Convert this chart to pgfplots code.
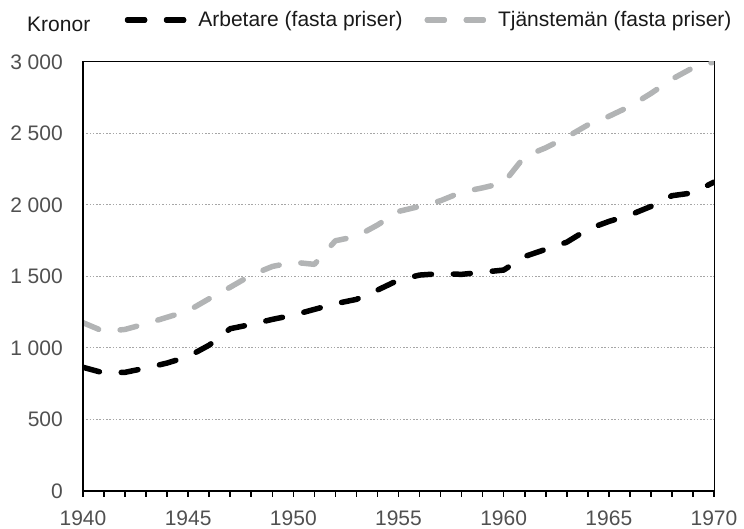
\documentclass[border=0pt]{standalone}
\usepackage{fontspec}
\setmainfont{Liberation Sans}
\usepackage{pgfplots}
\pgfplotsset{compat=1.18}

\definecolor{arbgray}{RGB}{178,180,181}
\definecolor{ticktext}{RGB}{80,80,80}

\begin{document}
\begin{tikzpicture}[font=\fontsize{21}{25}\selectfont]
\begin{axis}[
    name=ax,
    width=631pt, height=429pt,
    scale only axis,
    clip mode=individual,
    xmin=1940, xmax=1970,
    ymin=0, ymax=3000,
    xtick={1940,1945,...,1970},
    minor x tick num=4,
    xtick pos=bottom,
    ytick={0,500,...,3000},
    tick align=outside,
    major tick length=6pt,
    minor tick length=6pt,
    x tick style={line width=1.6pt, black},
    minor x tick style={line width=1.6pt, black},
    y tick style={draw=none},
    /pgf/number format/assume math mode=true,
    x tick label style={/pgf/number format/1000 sep={}, inner sep=0pt, yshift=-14pt, text=ticktext},
    y tick label style={/pgf/number format/1000 sep={\ }, inner sep=0pt, xshift=-14pt, text=ticktext},
    axis line style={line width=1pt},
    ymajorgrids=true,
    grid style={line width=1pt, gray!70, dash pattern=on 1.5pt off 1.8pt},
    legend columns=2,
    legend style={draw=none, fill=none, at={(axis description cs:0.066,1.098)}, anchor=west,
        inner sep=0pt, font=\fontsize{21}{25}\selectfont, text=black!90,
        nodes={inner sep=0pt},
        /tikz/every even column/.append style={column sep=22pt}},
    legend image code/.code={\draw[#1] (0pt,0pt) -- (56pt,0pt); \path (0pt,0pt) -- (68pt,0pt);},
]
\addplot[black, line width=5.5pt, line cap=round, line join=round, dash pattern=on 17pt off 22pt]
    coordinates {
    (1940,865)(1941,825)(1942,830)(1943,860)(1944,895)(1945,940)(1946,1020)
    (1947,1135)(1948,1165)(1949,1200)(1950,1230)(1951,1270)(1952,1310)(1953,1340)
    (1954,1405)(1955,1475)(1956,1510)(1957,1520)(1958,1515)(1959,1530)(1960,1545)
    (1961,1640)(1962,1690)(1963,1740)(1964,1830)(1965,1885)(1966,1930)(1967,1990)
    (1968,2065)(1969,2085)(1970,2160)
    };
\addplot[arbgray, line width=5.5pt, line cap=round, line join=round, dash pattern=on 17pt off 22pt]
    coordinates {
    (1940,1177)(1941,1115)(1942,1130)(1943,1170)(1944,1215)(1945,1260)(1946,1345)
    (1947,1425)(1948,1510)(1949,1570)(1950,1600)(1951,1585)(1952,1750)(1953,1780)
    (1954,1860)(1955,1955)(1956,1990)(1957,2030)(1958,2090)(1959,2120)(1960,2155)
    (1961,2340)(1962,2400)(1963,2475)(1964,2560)(1965,2620)(1966,2690)(1967,2780)
    (1968,2880)(1969,2960)(1970,3000)
    };
\legend{Arbetare (fasta priser), Tjänstemän (fasta priser)}
\draw[line width=2pt] (rel axis cs:0,0) -- (rel axis cs:0,1);
\draw[line width=2pt] (rel axis cs:0,0) -- (rel axis cs:1,0);
\node[anchor=base west, inner sep=0pt, text=black!90] at (axis description cs:-0.0887,1.070) {Kronor};
\end{axis}
\pgfresetboundingbox
\path ([shift={(-83pt,-38pt)}]ax.south west) rectangle ([shift={(30pt,62pt)}]ax.north east);
\end{tikzpicture}
\end{document}
